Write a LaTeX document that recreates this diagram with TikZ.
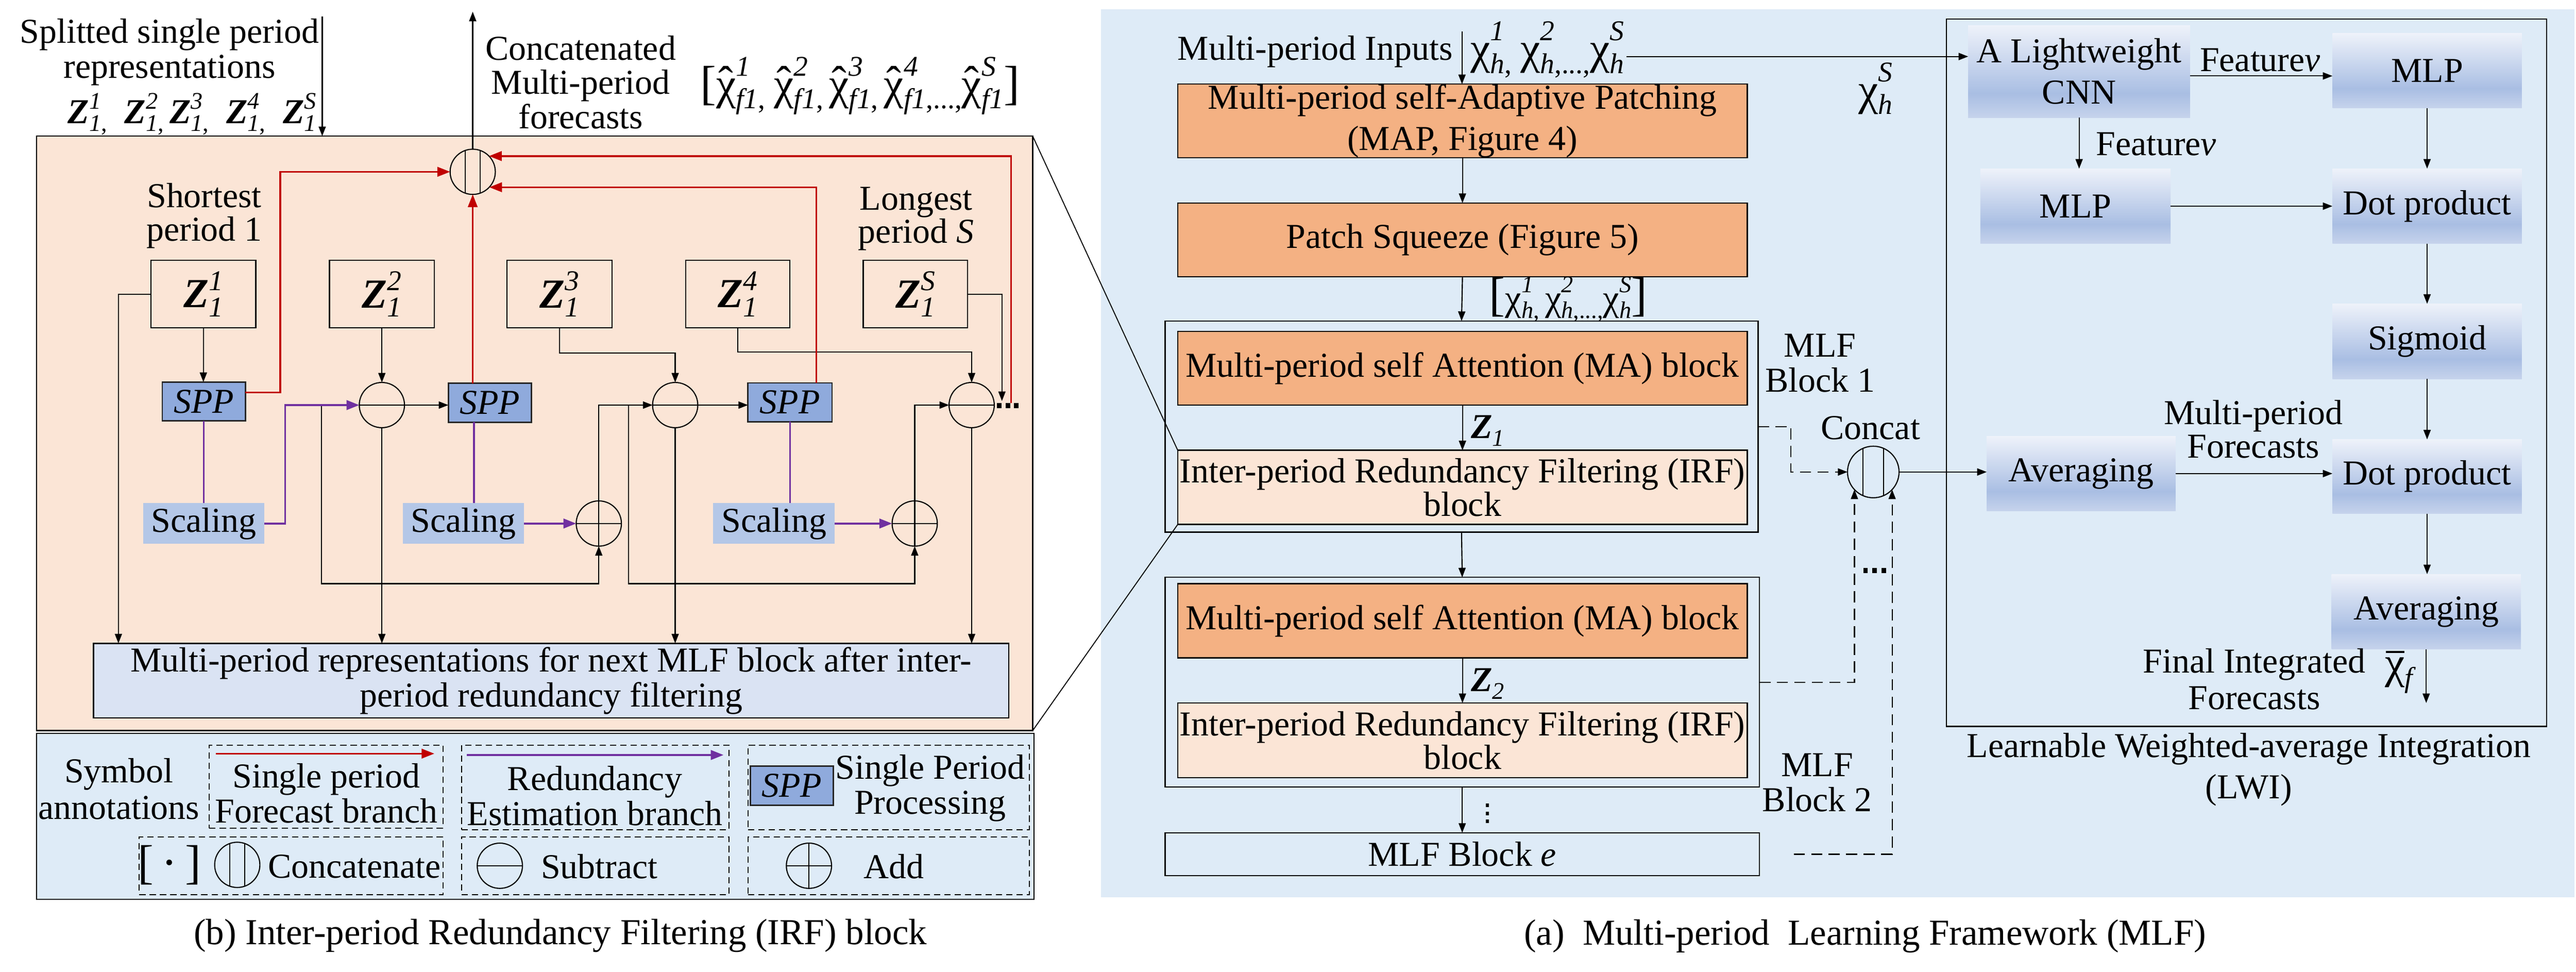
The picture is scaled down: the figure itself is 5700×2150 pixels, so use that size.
\documentclass[tikz,border=0pt]{standalone}
\usepackage{fontspec}
\setmainfont{Liberation Serif}
\usetikzlibrary{arrows.meta,calc}

\definecolor{peach}{HTML}{FBE5D6}
\definecolor{salmon}{HTML}{F4B183}
\definecolor{panelblue}{HTML}{DEEBF7}
\definecolor{sppblue}{HTML}{8FAADC}
\definecolor{scalblue}{HTML}{B4C7E7}
\definecolor{repblue}{HTML}{DAE3F3}
\definecolor{fred}{HTML}{C00000}
\definecolor{fpurple}{HTML}{7030A0}
\definecolor{lwtop}{HTML}{EEF2FA}
\definecolor{lwdark}{HTML}{A9BEE3}
\definecolor{lwbot}{HTML}{C6D3EC}

\pgfdeclareverticalshading{lwshade}{100bp}{color(0bp)=(lwbot); color(25bp)=(lwbot); color(38bp)=(lwdark); color(75bp)=(lwtop); color(100bp)=(lwtop)}

\newcommand\fs{\fontsize{22}{24}\selectfont}
\newcommand\fsb[1]{\fontsize{22}{#1}\selectfont}
\newsavebox\ssupbox
\newsavebox\ssubbox
% base, sup, sub, raise, lower, script size
\newcommand\SSgen[6]{#1\sbox\ssupbox{\fontsize{#6}{#6}\selectfont #2}\sbox\ssubbox{\fontsize{#6}{#6}\selectfont #3}\ooalign{\raise#4\copy\ssupbox\cr\lower#5\copy\ssubbox\cr}}
\newcommand\SupSub[3]{\SSgen{#1}{#2}{#3}{9.2pt}{4.8pt}{15}}
\newcommand\Zs{\textbf{\textit{Z}}}
\newcommand\Zbox[1]{\SSgen{\Zs}{\textit{#1}}{\textit{1}}{10.9pt}{5.7pt}{18}}
% large chi (28pt) with scripts
\newcommand\bchi{{\fontsize{28}{28}\selectfont χ}}
\newcommand\ChiSS[3]{\SSgen{#1}{#2}{#3}{14.5pt}{6pt}{18}}
% small chi
\newcommand\schi{{\fontsize{23}{23}\selectfont χ}}
\newcommand\ChiSSs[3]{\SSgen{#1}{#2}{#3}{11.5pt}{5pt}{15}}
\newcommand\chihat{{\fontsize{28}{28}\selectfont\ooalign{χ\cr\hidewidth\raise0.04em\hbox{\symbol{"02C6}}\hidewidth\cr}}}
\newcommand\chibar{{\fontsize{28}{28}\selectfont\ooalign{χ\cr\hidewidth\raise0.56em\hbox{\rule{0.42em}{0.05em}}\hidewidth\cr}}}
\newcommand\bigbr[1]{{\fontsize{30}{30}\selectfont #1}}

\newcommand\bx[7]{\node[#6, inner sep=0pt, outer sep=0pt, minimum width={(#4-#2)*0.01cm}, minimum height={(#5-#3)*0.01cm}] (#1) at ({(#2+#4)/2},{(#3+#5)/2}) {#7};}

\tikzset{
  txt/.style={font=\fs, inner sep=0pt, align=center},
  ln/.style={line width=0.7pt},
  arr/.style={line width=0.7pt, -{Triangle[length=6pt,width=4.5pt]}},
  rln/.style={line width=1.1pt, draw=fred},
  rarr/.style={line width=1.1pt, draw=fred, -{Triangle[length=8pt,width=6pt,fill=fred]}},
  pln/.style={line width=1.2pt, draw=fpurple},
  parr/.style={line width=1.2pt, draw=fpurple, -{Triangle[length=8pt,width=6pt,fill=fpurple]}},
  darr/.style={line width=0.7pt, dash pattern=on 7pt off 4pt, -{Triangle[length=6pt,width=4.5pt]}},
  zbox/.style={draw, line width=0.7pt, font=\fontsize{26}{28}\selectfont, align=center},
  sppbox/.style={draw=black!85, line width=0.9pt, fill=sppblue, font=\fs\itshape},
  scalbox/.style={fill=scalblue, font=\fs},
  mbox/.style={draw, line width=0.8pt, fill=salmon, font=\fs, align=center},
  ibox/.style={draw, line width=0.8pt, fill=peach, font=\fsb{19}, align=center},
  obox/.style={draw, line width=0.8pt, font=\fs},
  lwbox/.style={shading=lwshade, font=\fs, align=center},
  dbox/.style={draw, line width=0.6pt, dash pattern=on 4pt off 2.5pt},
  subc/.style={circle, draw, line width=0.7pt, minimum size=1cm, inner sep=0pt, outer sep=0pt,
    path picture={\draw[line width=0.7pt] (path picture bounding box.west) -- (path picture bounding box.east);}},
  addc/.style={circle, draw, line width=0.7pt, minimum size=1cm, inner sep=0pt, outer sep=0pt,
    path picture={\draw[line width=0.7pt] (path picture bounding box.west) -- (path picture bounding box.east)
      (path picture bounding box.north) -- (path picture bounding box.south);}},
  catc/.style={circle, draw, line width=0.7pt, minimum size=1cm, inner sep=0pt, outer sep=0pt,
    path picture={\draw[line width=0.7pt] ([xshift=-1.65mm]path picture bounding box.north) -- ([xshift=-1.65mm]path picture bounding box.south)
      ([xshift=1.65mm]path picture bounding box.north) -- ([xshift=1.65mm]path picture bounding box.south);}},
  catcB/.style={circle, draw, line width=0.7pt, minimum size=1.14cm, inner sep=0pt, outer sep=0pt,
    path picture={\draw[line width=0.7pt] ([xshift=-2.3mm]path picture bounding box.north) -- ([xshift=-2.3mm]path picture bounding box.south)
      ([xshift=2.3mm]path picture bounding box.north) -- ([xshift=2.3mm]path picture bounding box.south);}},
}

\begin{document}
\begin{tikzpicture}[x=0.01cm,y=-0.01cm]
\useasboundingbox (0,0) rectangle (5700,2150);
\fill[white] (0,0) rectangle (5700,2150);

% ================= panel (b) =================
\bx{irfpanel}{81}{301}{2285}{1616}{draw,line width=0.8pt,fill=peach}{}
\bx{legend}{81}{1622}{2288}{1989}{draw,line width=0.8pt,fill=panelblue}{}

% right panel background
\fill[panelblue] (2436,20) rectangle (5697,1985);

\node[txt, font=\fsb{22}] (splt) at (375,115) {Splitted single period\\representations};
\node[txt] (zlist) at (425,252) {\SupSub{\Zs}{\textit{1}}{\textit{1},}\ \ \SupSub{\Zs}{\textit{2}}{\textit{1},}\,\SupSub{\Zs}{\textit{3}}{\textit{1},}\ \ \SupSub{\Zs}{\textit{4}}{\textit{1},}\ \ \SupSub{\Zs}{\textit{S}}{\textit{1}}};
\coordinate (splttop) at (713,37);
\draw[arr] (splttop) -- (splttop |- irfpanel.north);

\node[txt, font=\fsb{21.5}] (cmf) at (1285,182) {Concatenated\\Multi-period\\forecasts};
\node[txt] (fcx) at (1903,190) {\bigbr{[}\ChiSS{\chihat}{\textit{1}}{\textit{f1},}\ \ChiSS{\chihat}{\textit{2}}{\textit{f1},}\,\ChiSS{\chihat}{\textit{3}}{\textit{f1},}\,\ChiSS{\chihat}{\textit{4}}{\textit{f1},...,}\ChiSS{\chihat}{\textit{S}}{\textit{f1}}\bigbr{]}};

\node[catc] (cc) at (1046,380) {};
\coordinate (cctop) at (1047,26);
\draw[arr] (cc.north) -- (cc.north |- cctop);

\node[txt, font=\fsb{21}] (shortest) at (452,477) {Shortest\\period 1};
\node[txt, font=\fsb{21}] (longest) at (2027,484) {Longest\\period \textit{S}};

\bx{z1}{334}{576}{566}{725}{zbox}{\Zbox{1}}
\bx{z2}{729}{576}{961}{725}{zbox}{\Zbox{2}}
\bx{z3}{1122}{576}{1354}{725}{zbox}{\Zbox{3}}
\bx{z4}{1517}{576}{1748}{725}{zbox}{\Zbox{4}}
\bx{zs}{1910}{576}{2141}{725}{zbox}{\Zbox{S}}

\bx{spp1}{359}{845}{543}{931}{sppbox}{SPP}
\bx{spp2}{992}{848}{1176}{934}{sppbox}{SPP}
\bx{spp3}{1655}{847}{1841}{933}{sppbox}{SPP}

\node[subc] (c1) at (845,896) {};
\node[subc] (c2) at (1494,896) {};
\node[subc] (c3) at (2150,896) {};
\node[addc] (a1) at (1325,1158) {};
\node[addc] (a2) at (2024,1158) {};

\bx{s1}{317}{1113}{585}{1203}{scalbox}{Scaling}
\bx{s2}{891}{1113}{1159}{1203}{scalbox}{Scaling}
\bx{s3}{1578}{1113}{1847}{1203}{scalbox}{Scaling}

\bx{rep}{207}{1423}{2232}{1588}{draw, line width=0.9pt, fill=repblue, font=\fsb{22}, align=center}{Multi-period representations for next MLF block after inter-\\period redundancy filtering}

% dots after last subtract
\foreach \x in {2211,2230,2249} \fill (\x-5,891) rectangle (\x+5,903);

% black connectors
\draw[arr] (z1.west) -| ($(rep.north west)+(55,0)$);
\draw[arr] (z1.south) -- (z1.south |- spp1.north);
\draw[arr] (z2.south) -- (z2.south |- c1.north);
\draw[arr] (c1.east) -- (c1.east -| spp2.west);
\draw[arr] (c1.south) -- (c1.south |- rep.north);
\coordinate (j1) at (711,896);
\coordinate (bot) at (0,1291);
\draw[arr] (j1) -- (j1 |- bot) -| (a1.south);
\draw[arr] (a1.north) |- (c2.west);
\coordinate (j2) at (1391,896);
\draw[arr] (j2) -- (j2 |- bot) -| (a2.south);
\coordinate (k3) at ($(z3.south)+(0,56)$);
\draw[arr] (z3.south) -- (k3) -| (c2.north);
\draw[arr] (c2.east) -- (c2.east -| spp3.west);
\draw[arr] (c2.south) -- (c2.south |- rep.north);
\draw[arr] (a2.north) |- (c3.west);
\coordinate (k4) at ($(z4.south)+(0,54)$);
\draw[arr] (z4.south) -- (k4) -| (c3.north);
\draw[arr] (c3.south) -- (c3.south |- rep.north);
\coordinate (dend) at (2217,887);
\draw[arr] (zs.east) -| (dend);

% purple connectors
\draw[pln] (spp1.south) -- (spp1.south |- s1.north);
\draw[parr] (s1.east) -- ++(46,0) |- (c1.west);
\coordinate (p2) at ($(spp2.south)+(-35,0)$);
\draw[pln] (p2) -- (p2 |- s2.north);
\draw[parr] (s2.east) -- (a1.west);
\draw[pln] (spp3.south) -- (spp3.south |- s3.north);
\draw[parr] (s3.east) -- (a2.west);

% red connectors
\coordinate (r1) at ($(spp1.east)+(0,-20)$);
\draw[rarr] (r1) -- ++(77,0) |- (cc.west);
\draw[rarr] (cc.south |- spp2.north) -- (cc.south);
\coordinate (r3) at ($(spp3.north)+(58,0)$);
\draw[rarr] (r3) |- (cc.-43);
\coordinate (r4) at (2237,892);
\draw[rarr] (r4) |- (cc.44);

% legend
\node[txt, font=\fsb{23}] (symann) at (263,1745) {Symbol\\annotations};
\bx{d1}{463}{1648}{980}{1832}{dbox}{}
\draw[rarr] ($(d1.north west)+(15,19)$) -- ($(d1.north east)+(-19,19)$);
\node[txt, font=\fsb{22}] (t1) at (722,1755) {Single period\\Forecast branch};
\bx{d2}{1021}{1648}{1613}{1835}{dbox}{}
\draw[parr] ($(d2.north west)+(12,22)$) -- ($(d2.north east)+(-12,22)$);
\node[txt, font=\fsb{22}] (t2) at (1316,1760) {Redundancy\\Estimation branch};
\bx{d3}{1655}{1648}{2278}{1835}{dbox}{}
\bx{lspp}{1660}{1695}{1844}{1781}{sppbox}{SPP}
\node[txt, font=\fsb{22}] (t3) at (2058,1743) {Single Period\\Processing};
\bx{d4}{308}{1851}{980}{1979}{dbox}{}
\node[txt] (brk) at (375,1913) {\bigbr{[\,·\,]}};
\node[catc] (lcat) at (525,1913) {};
\node[txt] (t4) at (784,1917) {Concatenate};
\bx{d5}{1021}{1851}{1613}{1979}{dbox}{}
\node[subc] (lsub) at (1106,1915) {};
\node[txt] (t5) at (1326,1917) {Subtract};
\bx{d6}{1655}{1851}{2278}{1979}{dbox}{}
\node[addc] (ladd) at (1790,1915) {};
\node[txt] (t6) at (1978,1917) {Add};

\node[txt, font=\fontsize{23}{25}\selectfont] (capb) at (1240,2070) {(b) Inter-period Redundancy Filtering (IRF) block};

% ================= panel (a) =================
\node[txt] (mpin) at (2910,114) {Multi-period Inputs};
\node[txt, anchor=west] (xin) at (3253,110) {\ChiSS{\bchi}{\textit{1}}{\textit{h},}\ \ChiSS{\bchi}{\textit{2}}{\textit{h},...,}\ChiSS{\bchi}{\textit{S}}{\textit{h}}};

\bx{map}{2606}{186}{3866}{349}{mbox, font=\fsb{26}}{Multi-period self-Adaptive Patching\\(MAP, Figure 4)}
\bx{ps}{2606}{449}{3866}{612}{mbox}{Patch Squeeze (Figure 5)}
\bx{mlf1}{2578}{710}{3890}{1177}{obox}{}
\bx{ma1}{2606}{733}{3866}{896}{mbox}{Multi-period self Attention (MA) block}
\bx{irf1}{2606}{996}{3866}{1160}{ibox}{Inter-period Redundancy Filtering (IRF)\\block}
\bx{mlf2}{2578}{1277}{3893}{1741}{obox}{}
\bx{ma2}{2606}{1291}{3866}{1455}{mbox}{Multi-period self Attention (MA) block}
\bx{irf2}{2606}{1555}{3866}{1720}{ibox}{Inter-period Redundancy Filtering (IRF)\\block}
\bx{mlfe}{2578}{1842}{3893}{1937}{obox}{MLF Block \textit{e}}

% zoom lines
\draw[line width=0.6pt] (irfpanel.north east) -- (irf1.north west);
\draw[line width=0.6pt] (irfpanel.south east) -- (irf1.south west);

\coordinate (inTop) at (3235,70);
\draw[arr] (inTop) -- (inTop |- map.north);
\draw[arr] (map.south) -- (ps.north);
\draw[arr] (ps.south) -- (mlf1.north);
\node[txt] (xsq) at (3470,662) {\bigbr{[}\ChiSSs{\schi}{\textit{1}}{\textit{h},}\,\ChiSSs{\schi}{\textit{2}}{\textit{h},...,}\ChiSSs{\schi}{\textit{S}}{\textit{h}}\bigbr{]}};
\draw[arr] (ma1.south) -- (irf1.north);
\node[txt] (zl1) at (3292,953) {\Zs\lower0.22em\hbox{\fontsize{15}{15}\selectfont\textit{1}}};
\draw[arr] (mlf1.south) -- (mlf2.north);
\draw[arr] (ma2.south) -- (irf2.north);
\node[txt] (zl2) at (3292,1513) {\Zs\lower0.22em\hbox{\fontsize{15}{15}\selectfont\textit{2}}};
\draw[arr] (mlf2.south) -- (mlfe.north);
\foreach \y in {1781,1799,1817} \fill (3288,\y-4) rectangle (3295,\y+4);

\node[txt, font=\fsb{22}] (mlfb1) at (4027,803) {MLF\\Block 1};
\node[txt, font=\fsb{22}] (mlfb2) at (4021,1731) {MLF\\Block 2};
\node[txt] (concatl) at (4139,947) {Concat};
\node[catcB] (ccr) at (4145,1044) {};
\draw[darr] (mlf1.east) -- ++(73,0) |- (ccr.west);
\draw[darr] (mlf2.east) -| (ccr.-137);
\coordinate (me) at ($(mlfe.east)+(76,0)$);
\draw[darr] (me) -| (ccr.-43);
\foreach \x in {4128,4148,4168} \fill (\x-5,1256) rectangle (\x+5,1268);

\node[txt] (xhs) at (4150,196) {\ChiSS{\bchi}{\textit{S}}{\textit{h}}};

% LWI
\bx{lwi}{4307}{42}{5635}{1607}{obox}{}
\bx{cnn}{4355}{56}{4846}{260}{lwbox, font=\fsb{26}}{A Lightweight\\CNN}
\bx{mlp1}{5161}{74}{5580}{239}{lwbox}{MLP}
\bx{mlp2}{4382}{373}{4803}{539}{lwbox}{MLP}
\bx{dot1}{5161}{373}{5580}{539}{lwbox}{Dot product}
\bx{sig}{5161}{672}{5580}{838}{lwbox}{Sigmoid}
\bx{avg1}{4396}{965}{4814}{1130}{lwbox}{Averaging}
\bx{dot2}{5161}{972}{5580}{1136}{lwbox}{Dot product}
\bx{avg2}{5159}{1270}{5578}{1436}{lwbox}{Averaging}

\coordinate (xe) at ($(xin.east)+(4,15)$);
\draw[arr] (xe) -- (xe -| cnn.west);
\coordinate (ce) at ($(cnn.east)+(0,10)$);
\draw[arr] (ce) -- (ce -| mlp1.west);
\node[txt] (f1) at (5001,133) {Feature\textit{ν}};
\draw[arr] (cnn.south) -- (cnn.south |- mlp2.north);
\node[txt] (f2) at (4771,319) {Feature\textit{ν}};
\draw[arr] (mlp2.east) -- (dot1.west);
\draw[arr] (mlp1.south) -- (dot1.north);
\draw[arr] (dot1.south) -- (sig.north);
\draw[arr] (sig.south) -- (dot2.north);
\draw[arr] (ccr.east) -- (ccr.east -| avg1.west);
\draw[arr] (avg1.east) -- (avg1.east -| dot2.west);
\node[txt, font=\fsb{21}] (mpf) at (4986,949) {Multi-period\\Forecasts};
\draw[arr] (dot2.south) -- (dot2.south |- avg2.north);
\coordinate (fend) at (5367,1555);
\draw[arr] (avg2.south) -- (avg2.south |- fend);
\node[txt, font=\fsb{23}] (fif) at (4988,1502) {Final Integrated\\Forecasts};
\node[txt] (xbar) at (5312,1494) {\chibar\lower6pt\hbox{\fontsize{18}{18}\selectfont\textit{f}}};
\node[txt, font=\fsb{26}] (lwil) at (4976,1702) {Learnable Weighted-average Integration\\(LWI)};

\node[txt, font=\fontsize{23}{25}\selectfont] (capa) at (4127,2071) {(a)\ \ Multi-period\ \ Learning Framework (MLF)};
\end{tikzpicture}
\end{document}
